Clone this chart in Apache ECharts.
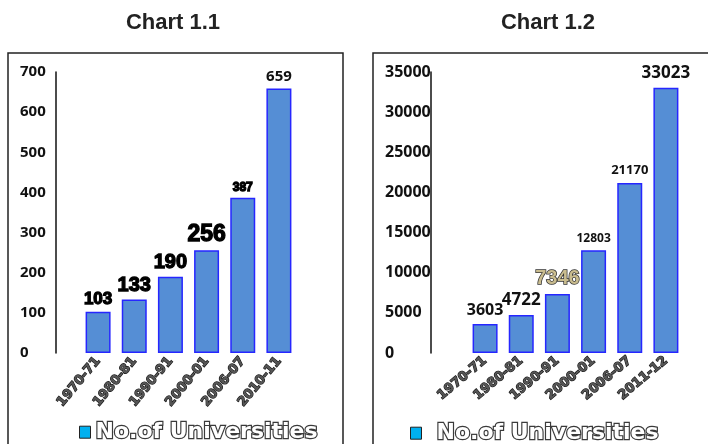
<!DOCTYPE html>
<html>
<head>
<meta charset="utf-8">
<script src="https://cdn.jsdelivr.net/npm/echarts@6/dist/echarts.min.js"></script>
<style>
  html, body { margin: 0; padding: 0; background: #fff; }
  #chart { width: 708px; height: 444px; }
</style>
</head>
<body>
<div id="chart"></div>
<script>
// Number of universities and of colleges, by academic year
const periods1 = ['1970-71', '1980-81', '1990-91', '2000-01', '2006-07', '2010-11'];
const universities = [103, 133, 190, 256, 387, 659];
const yTicks1 = { min: 0, max: 700, interval: 100 };

const periods2 = ['1970-71', '1980-81', '1990-91', '2000-01', '2006-07', '2011-12'];
const colleges = [3603, 4722, 7346, 12803, 21170, 33023];
const yTicks2 = { min: 0, max: 35000, interval: 5000 };

const seriesName = 'No.of Universities';
const titles = ['Chart 1.1', 'Chart 1.2'];

// label looks for each bar
const heavy = (size) => ({
  fontFamily: '"Liberation Sans Narrow", "Liberation Sans", Arial, sans-serif',
  fontWeight: 'bold', fontSize: size, color: '#000',
  textBorderColor: '#000', textBorderWidth: 1.3
});
const plain = (size) => ({
  fontFamily: '"Open Sans", "Liberation Sans", sans-serif',
  fontWeight: 'bold', fontSize: size, color: '#111'
});
const labelStyles1 = [heavy(17), heavy(20), heavy(20), heavy(23), heavy(12), plain(15)];
const labelStyles2 = [plain(16), plain(17),
  { fontFamily: '"Liberation Sans Narrow", "Liberation Sans", sans-serif', fontWeight: 'bold',
    fontSize: 20, color: '#C9BC8E', textBorderColor: '#333', textBorderWidth: 1.5 },
  plain(12), plain(13), plain(17)];

const barStyle = { color: '#558ED5', borderColor: '#2626FF', borderWidth: 1.5 };

function withLabels(values, styles) {
  return values.map((v, i) => ({ value: v, label: styles[i] }));
}

const xLabel = (rot) => ({
  rotate: rot, margin: 6, interval: 0,
  fontFamily: '"DejaVu Sans", sans-serif', fontWeight: 'bold', fontSize: 13,
  color: '#555', textBorderColor: '#111', textBorderWidth: 1.2
});
const yLabel = (size, margin) => ({
  align: 'left', margin: margin, formatter: (v) => String(v),
  fontFamily: '"Open Sans", "Liberation Sans", sans-serif', fontWeight: 'bold',
  fontSize: size, color: '#111'
});
const legendText = {
  fontFamily: '"DejaVu Sans", sans-serif', fontWeight: 'bold', fontSize: 22,
  color: '#fff', textBorderColor: '#3a3a3a', textBorderWidth: 2.4
};
const legendIcon = { color: '#00B0F0', borderColor: '#222', borderWidth: 1 };

const chart = echarts.init(document.getElementById('chart'), null, { renderer: 'canvas' });
chart.setOption({
  animation: false,
  backgroundColor: '#fff',
  title: [
    { text: titles[0], left: 168, top: 7, textAlign: 'center',
      textStyle: { fontFamily: '"Liberation Sans", Arial, sans-serif', fontWeight: 'bold', fontSize: 22, color: '#222' } },
    { text: titles[1], left: 543, top: 7, textAlign: 'center',
      textStyle: { fontFamily: '"Liberation Sans", Arial, sans-serif', fontWeight: 'bold', fontSize: 22, color: '#222' } }
  ],
  graphic: [
    { type: 'rect', shape: { x: 8, y: 53, width: 335, height: 400 },
      style: { fill: 'none', stroke: '#222', lineWidth: 1.5 }, silent: true },
    { type: 'rect', shape: { x: 373, y: 53, width: 360, height: 400 },
      style: { fill: 'none', stroke: '#222', lineWidth: 1.5 }, silent: true }
  ],
  legend: [
    { left: 79, top: 420, padding: 0, itemWidth: 11, itemHeight: 12, itemGap: 0,
      data: [{ name: seriesName, icon: 'rect', itemStyle: legendIcon }],
      textStyle: legendText, selectedMode: false },
    { left: 410, top: 421, padding: 0, itemWidth: 11, itemHeight: 12, itemGap: 0,
      data: [{ name: seriesName, icon: 'rect', itemStyle: legendIcon }],
      textStyle: Object.assign({ padding: [0, 0, 0, 10] }, legendText), selectedMode: false }
  ],
  grid: [
    { left: 80, width: 217, top: 72, bottom: 91 },
    { left: 467, width: 217, top: 72, bottom: 91 }
  ],
  xAxis: [
    { type: 'category', gridIndex: 0, data: periods1,
      axisLine: { show: false }, axisTick: { show: false }, axisLabel: xLabel(50) },
    { type: 'category', gridIndex: 1, data: periods2,
      axisLine: { show: false }, axisTick: { show: false }, axisLabel: xLabel(40) }
  ],
  yAxis: [
    { type: 'value', gridIndex: 0, min: yTicks1.min, max: yTicks1.max, interval: yTicks1.interval,
      offset: 24, splitLine: { show: false }, axisTick: { show: false },
      axisLine: { show: true, lineStyle: { color: '#111', width: 1.5 } },
      axisLabel: yLabel(15, 36) },
    { type: 'value', gridIndex: 1, min: yTicks2.min, max: yTicks2.max, interval: yTicks2.interval,
      offset: 36, splitLine: { show: false }, axisTick: { show: false },
      axisLine: { show: true, lineStyle: { color: '#111', width: 1.5 } },
      axisLabel: yLabel(16, 46) }
  ],
  series: [
    { name: seriesName, type: 'bar', xAxisIndex: 0, yAxisIndex: 0, barWidth: 25,
      itemStyle: barStyle, label: { show: true, position: 'top', distance: 4 },
      data: withLabels(universities, labelStyles1) },
    { name: seriesName, type: 'bar', xAxisIndex: 1, yAxisIndex: 1, barWidth: 25,
      itemStyle: barStyle, label: { show: true, position: 'top', distance: 6 },
      data: withLabels(colleges, labelStyles2) }
  ]
});
</script>
</body>
</html>
